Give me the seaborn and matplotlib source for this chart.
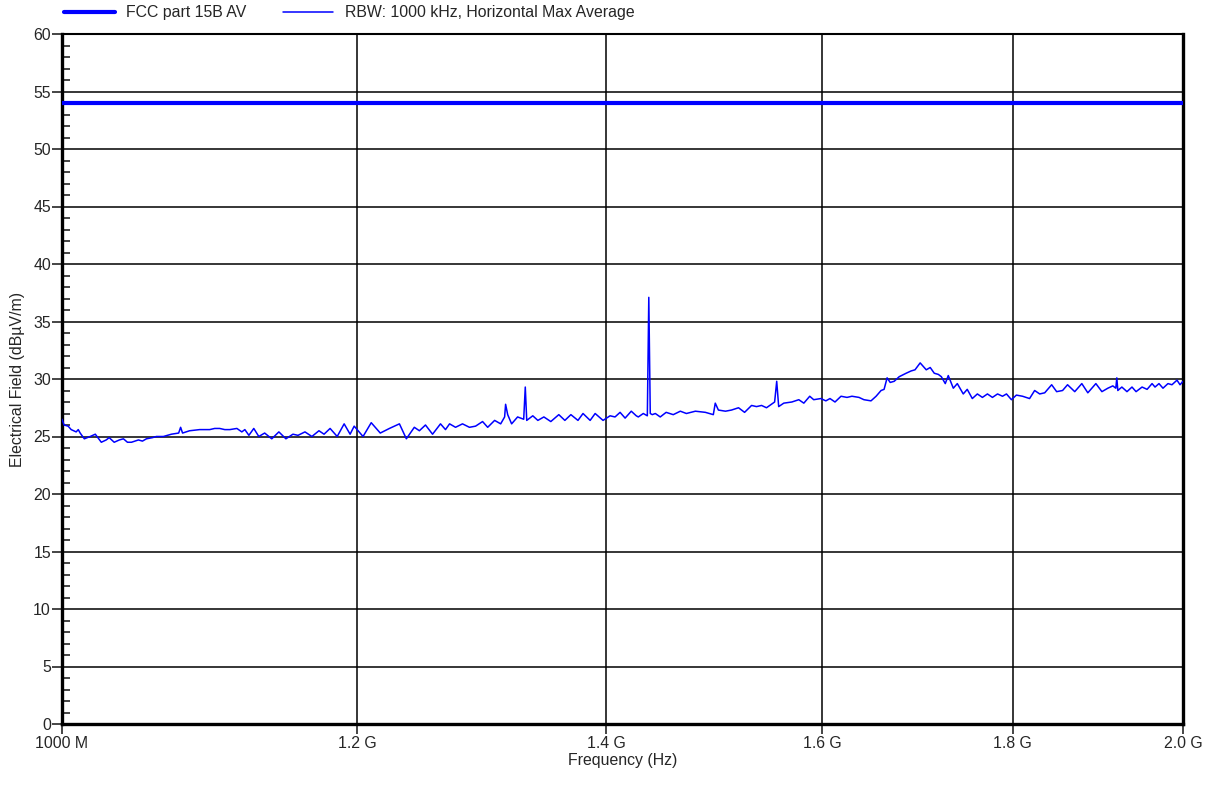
import numpy as np
import pandas as pd
import seaborn as sns
import matplotlib.pyplot as plt
from matplotlib.ticker import FixedLocator, NullLocator, MultipleLocator

# trace (frequency in MHz, level in dBuV/m)
freq_mhz = [1000.0, 1001.3, 1003.8, 1005.7, 1008.8, 1010.1, 1011.3, 1013.9, 1017.6, 1020.8,
            1024.6, 1027.7, 1029.6, 1032.8, 1036.1, 1038.7, 1041.3, 1043.9, 1048.4, 1051.0,
            1053.6, 1057.5, 1060.1, 1064.7, 1070.0, 1074.8, 1076.1, 1077.4, 1082.1, 1088.9,
            1092.2, 1095.6, 1099.0, 1102.4, 1105.9, 1109.3, 1114.2, 1117.6, 1119.7, 1122.5,
            1125.9, 1129.4, 1133.5, 1138.5, 1143.5, 1148.5, 1153.5, 1157.1, 1162.1, 1167.1,
            1172.2, 1175.9, 1180.3, 1185.5, 1190.6, 1195.0, 1198.0, 1204.6, 1210.7, 1217.5,
            1224.4, 1232.0, 1237.3, 1243.4, 1247.3, 1252.0, 1257.5, 1263.7, 1267.6, 1270.8,
            1275.5, 1281.0, 1286.5, 1291.4, 1297.0, 1301.1, 1306.7, 1311.6, 1314.8, 1315.6,
            1317.3, 1320.5, 1325.4, 1330.4, 1331.7, 1332.9, 1337.9, 1342.1, 1347.1, 1352.9,
            1359.6, 1364.7, 1369.8, 1375.8, 1380.1, 1386.2, 1390.5, 1397.3, 1403.4, 1407.7,
            1412.1, 1416.5, 1421.9, 1426.3, 1428.1, 1432.5, 1436.1, 1437.4, 1438.7, 1440.5,
            1443.2, 1447.6, 1452.9, 1459.3, 1465.7, 1471.2, 1479.4, 1488.6, 1495.9, 1497.7,
            1500.6, 1507.2, 1512.8, 1519.4, 1525.1, 1531.7, 1536.4, 1541.2, 1545.9, 1553.7,
            1555.7, 1557.6, 1562.5, 1570.3, 1577.1, 1582.0, 1587.8, 1591.7, 1598.7, 1603.7,
            1607.8, 1612.8, 1618.8, 1624.8, 1629.8, 1636.9, 1641.9, 1649.1, 1654.3, 1659.4,
            1662.5, 1665.6, 1668.8, 1672.9, 1678.1, 1685.3, 1690.5, 1694.6, 1700.0, 1706.4,
            1710.6, 1714.9, 1719.2, 1722.4, 1726.6, 1729.8, 1735.2, 1739.5, 1745.9, 1750.2,
            1755.7, 1761.2, 1766.7, 1772.2, 1777.7, 1783.3, 1788.8, 1793.2, 1798.7, 1804.2,
            1811.1, 1819.0, 1824.7, 1830.4, 1836.1, 1844.0, 1849.7, 1856.5, 1862.2, 1870.5,
            1878.7, 1885.7, 1895.1, 1902.2, 1909.2, 1915.1, 1918.6, 1919.8, 1921.0, 1925.8,
            1931.9, 1937.9, 1942.8, 1950.0, 1956.1, 1962.1, 1965.7, 1970.5, 1975.4, 1981.5,
            1986.4, 1992.6, 1996.3, 2000.0]
level = [26.5, 26.0, 25.9, 25.6, 25.4, 25.6, 25.3, 24.8, 25.0, 25.2,
         24.5, 24.7, 24.9, 24.5, 24.7, 24.8, 24.5, 24.5, 24.7, 24.6,
         24.8, 24.9, 25.0, 25.0, 25.2, 25.3, 25.8, 25.3, 25.5, 25.6,
         25.6, 25.6, 25.7, 25.7, 25.6, 25.6, 25.7, 25.4, 25.6, 25.1,
         25.7, 25.0, 25.3, 24.8, 25.4, 24.8, 25.2, 25.1, 25.4, 25.0,
         25.5, 25.2, 25.7, 25.0, 26.1, 25.2, 25.9, 25.0, 26.2, 25.3,
         25.7, 26.1, 24.8, 25.8, 25.5, 26.0, 25.2, 26.1, 25.6, 26.1,
         25.8, 26.1, 25.8, 25.9, 26.3, 25.8, 26.4, 26.1, 26.7, 27.8,
         26.9, 26.1, 26.7, 26.5, 29.3, 26.4, 26.8, 26.4, 26.7, 26.3,
         26.9, 26.4, 26.9, 26.4, 27.0, 26.4, 27.0, 26.4, 26.8, 26.7,
         27.1, 26.6, 27.2, 26.8, 26.7, 27.0, 26.8, 37.1, 27.0, 26.9,
         27.0, 26.7, 27.1, 26.9, 27.2, 27.0, 27.2, 27.1, 26.9, 27.9,
         27.3, 27.2, 27.3, 27.5, 27.1, 27.7, 27.6, 27.7, 27.5, 28.0,
         29.8, 27.6, 27.9, 28.0, 28.2, 27.9, 28.5, 28.2, 28.3, 28.1,
         28.3, 28.0, 28.5, 28.4, 28.5, 28.4, 28.2, 28.1, 28.5, 29.0,
         29.1, 30.1, 29.7, 29.8, 30.2, 30.5, 30.7, 30.8, 31.4, 30.8,
         31.0, 30.5, 30.4, 30.2, 29.6, 30.3, 29.2, 29.6, 28.7, 29.1,
         28.3, 28.7, 28.4, 28.7, 28.4, 28.7, 28.5, 28.7, 28.2, 28.6,
         28.5, 28.3, 29.0, 28.7, 28.8, 29.5, 28.9, 29.0, 29.5, 28.9,
         29.6, 28.8, 29.6, 28.9, 29.2, 29.4, 29.2, 30.1, 29.0, 29.3,
         28.9, 29.3, 28.9, 29.3, 29.1, 29.6, 29.3, 29.6, 29.2, 29.6,
         29.5, 29.9, 29.5, 29.8]

limit_freq = [1000.0, 2000.0]
limit_level = [54.0, 54.0]

x_ticks = [1000, 1200, 1400, 1600, 1800, 2000]
x_labels = ["1000 M", "1.2 G", "1.4 G", "1.6 G", "1.8 G", "2.0 G"]

trace_name = "RBW: 1000 kHz, Horizontal Max Average"
limit_name = "FCC part 15B AV"

sns.set_style("white")
plt.rcParams['font.family'] = ['Liberation Sans Narrow', 'Liberation Sans', 'DejaVu Sans']
fs = 11.4

fig = plt.figure(figsize=(12.12, 7.94), dpi=100)
ax = fig.add_axes([62 / 1212, 1 - 724 / 794, (1183 - 62) / 1212, (724 - 34) / 794])

lim_df = pd.DataFrame({"f": limit_freq, "v": limit_level})
tr_df = pd.DataFrame({"f": freq_mhz, "v": level})
sns.lineplot(data=lim_df, x="f", y="v", ax=ax, color="#0000ff", linewidth=3.0,
             label=limit_name, sort=False, zorder=4)
sns.lineplot(data=tr_df, x="f", y="v", ax=ax, color="#0000ff", linewidth=1.1,
             label=trace_name, sort=False, zorder=3)

ax.set_xscale("log")
ax.set_xlim(1000, 2000)
ax.set_ylim(0, 60)
ax.xaxis.set_major_locator(FixedLocator(x_ticks))
ax.xaxis.set_minor_locator(NullLocator())
ax.set_xticklabels(x_labels)
ax.yaxis.set_major_locator(MultipleLocator(5))
ax.yaxis.set_minor_locator(MultipleLocator(1))

ax.grid(True, which="major", color="black", linewidth=1.1)
ax.set_axisbelow(True)
for s in ax.spines.values():
    s.set_visible(True)
    s.set_color("black")
    s.set_linewidth(1.5)
ax.spines["left"].set_linewidth(2.4)
ax.spines["bottom"].set_linewidth(2.4)
ax.spines["right"].set_linewidth(2.4)

ax.tick_params(axis="y", which="major", direction="out", length=7, width=1.2,
               left=True, labelsize=fs, pad=1)
ax.tick_params(axis="y", which="minor", direction="in", length=6, width=1.2, left=True)
ax.tick_params(axis="x", which="major", direction="out", length=7, width=1.2,
               bottom=True, labelsize=fs, pad=2)

ax.set_xlabel("Frequency (Hz)", fontsize=fs, labelpad=1)
ax.set_ylabel("Electrical Field (dBµV/m)", fontsize=fs, labelpad=6)

ax.legend(loc="center left", bbox_to_anchor=(0.002, 1 + 21 / 690), ncol=2, frameon=False,
          handlelength=3.2, handletextpad=0.7, columnspacing=2.3, fontsize=fs,
          borderaxespad=0.0, borderpad=0.0)

fig.savefig("out.png", dpi=100)
